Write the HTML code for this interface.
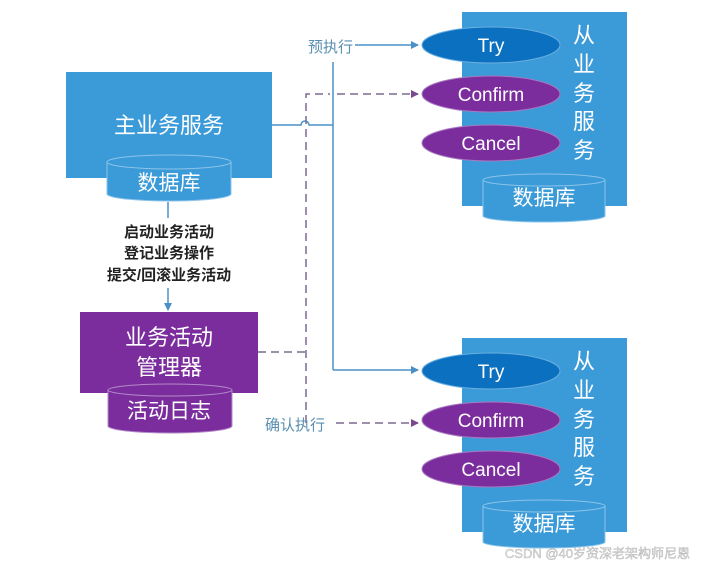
<!DOCTYPE html>
<html><head><meta charset="utf-8"><style>
body{margin:0;background:#fff;}
svg text{font-family:"Liberation Sans","Noto Sans CJK SC",sans-serif;}
</style></head><body>
<svg width="701" height="568" viewBox="0 0 701 568" xmlns="http://www.w3.org/2000/svg">
<defs>
<marker id="ab" markerWidth="8" markerHeight="8" refX="7" refY="4" orient="auto" markerUnits="userSpaceOnUse"><path d="M0,0 L8,4 L0,8 z" fill="#4a90c8"/></marker>
<marker id="ap" markerWidth="8" markerHeight="8" refX="7" refY="4" orient="auto" markerUnits="userSpaceOnUse"><path d="M0,0 L8,4 L0,8 z" fill="#7a4a90"/></marker>
</defs>
<rect width="701" height="568" fill="#fff"/>
<rect x="66" y="72" width="206" height="106" fill="#3b9ad8"/>
<text x="169" y="133" font-size="22" fill="#fff" text-anchor="middle">主业务服务</text>
<path d="M107,162 v32 a62,7 0 0 0 124,0 v-32" fill="#3b9ad8" stroke="#8cc4ea" stroke-width="1"/>
<ellipse cx="169" cy="162" rx="62" ry="7" fill="#3b9ad8" stroke="#8cc4ea"/>
<text x="169" y="190" font-size="21" fill="#fff" text-anchor="middle">数据库</text>
<line x1="168" y1="202" x2="168" y2="218" stroke="#4a90c8" stroke-width="1.5"/>
<g font-size="15" fill="#222" text-anchor="middle" font-weight="bold">
<text x="169" y="237">启动业务活动</text>
<text x="169" y="258">登记业务操作</text>
<text x="169" y="280">提交/回滚业务活动</text>
</g>
<line x1="168" y1="288" x2="168" y2="310" stroke="#4a90c8" stroke-width="1.5" marker-end="url(#ab)"/>
<rect x="80" y="312" width="178" height="81" fill="#7b2d9e"/>
<text x="169" y="345" font-size="22" fill="#fff" text-anchor="middle">业务活动</text>
<text x="169" y="375" font-size="22" fill="#fff" text-anchor="middle">管理器</text>
<path d="M108,390 v36 a62,7 0 0 0 124,0 v-36" fill="#7b2d9e" stroke="#b48ac8"/>
<ellipse cx="170" cy="390" rx="62" ry="6" fill="#7b2d9e" stroke="#b48ac8"/>
<text x="169" y="418" font-size="21" fill="#fff" text-anchor="middle">活动日志</text>
<path d="M272,125 H301 a4,4 0 0 1 8,0 H333" fill="none" stroke="#4a90c8" stroke-width="1.5"/>
<line x1="333" y1="62" x2="333" y2="370" stroke="#4a90c8" stroke-width="1.5"/>
<path d="M333,370 H418" fill="none" stroke="#4a90c8" stroke-width="1.5" marker-end="url(#ab)"/>
<path d="M355,45 H418" fill="none" stroke="#4a90c8" stroke-width="1.5" marker-end="url(#ab)"/>
<text x="308" y="52" font-size="15" fill="#5a8fb0">预执行</text>
<g stroke="#7a6a90" stroke-width="1.5" stroke-dasharray="8,5" fill="none">
<path d="M306,423 V94 H330"/>
<path d="M337,94 H418" marker-end="url(#ap)"/>
<path d="M258,352 H306"/>
<path d="M336,423 H418" marker-end="url(#ap)"/>
</g>
<text x="265" y="430" font-size="15" fill="#5a8fb0">确认执行</text>
<g id="svc">
<rect x="462" y="12" width="165" height="194" fill="#3b9ad8"/>
<path d="M483,180 v36 a61,6 0 0 0 122,0 v-36" fill="#3b9ad8" stroke="#8cc4ea"/>
<ellipse cx="544" cy="180" rx="61" ry="6" fill="#3b9ad8" stroke="#8cc4ea"/>
<text x="544" y="205" font-size="21" fill="#fff" text-anchor="middle">数据库</text>
<g font-size="22" fill="#fff" text-anchor="middle">
<text x="584" y="43">从</text><text x="584" y="72">业</text><text x="584" y="101">务</text><text x="584" y="129">服</text><text x="584" y="158">务</text>
</g>
<ellipse cx="491" cy="45" rx="69" ry="18" fill="#0b70bf" stroke="#6aaee0"/>
<text x="491" y="52" font-size="19" fill="#fff" text-anchor="middle">Try</text>
<ellipse cx="491" cy="94" rx="69" ry="18" fill="#7b2d9e" stroke="#a878c0"/>
<text x="491" y="101" font-size="19" fill="#fff" text-anchor="middle">Confirm</text>
<ellipse cx="491" cy="143" rx="69" ry="18" fill="#7b2d9e" stroke="#a878c0"/>
<text x="491" y="150" font-size="19" fill="#fff" text-anchor="middle">Cancel</text>
</g>
<use href="#svc" transform="translate(0,326)"/>
<text x="690" y="558" font-size="13" fill="#e4e4e4" text-anchor="end" stroke="#999" stroke-width="0.3">CSDN @40岁资深老架构师尼恩</text>
</svg>
</body></html>
